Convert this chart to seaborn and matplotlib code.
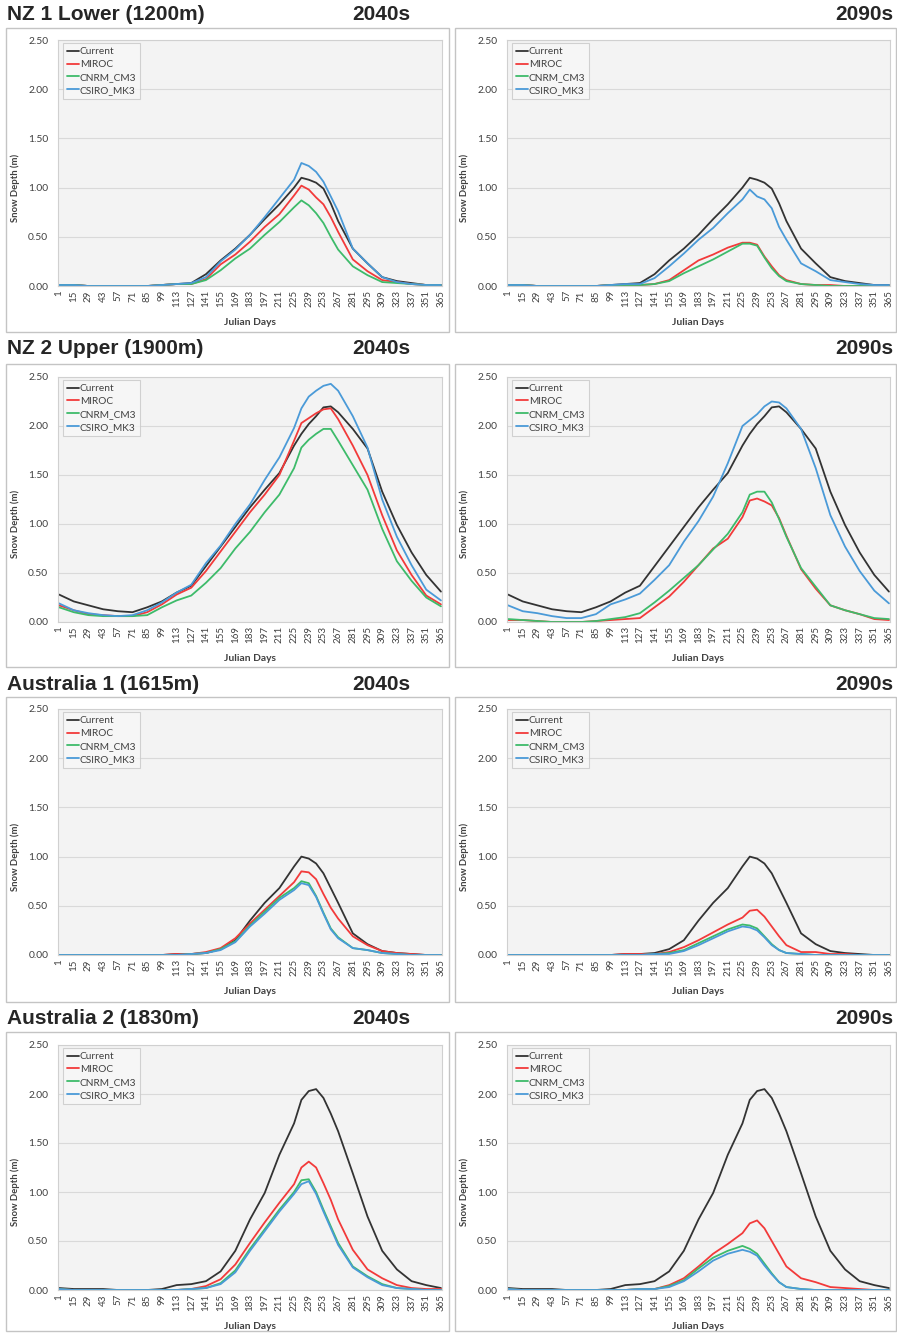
import matplotlib
matplotlib.use("Agg")
import matplotlib.pyplot as plt
import pandas as pd
import seaborn as sns
from matplotlib.patches import Rectangle

DAYS = [1, 15, 29, 43, 57, 71, 85, 99, 113, 127, 141, 155, 169, 183, 197, 211,
        225, 232, 239, 246, 253, 260, 267, 281, 295, 309, 323, 337, 351, 365]
TICK_DAYS = list(range(1, 366, 14))
MODELS = ["Current", "MIROC", "CNRM_CM3", "CSIRO_MK3"]
COLORS = ["#333333", "#f23a3a", "#3dbb6a", "#4a9ad8"]
SITES = ["NZ 1 Lower (1200m)", "NZ 2 Upper (1900m)", "Australia 1 (1615m)", "Australia 2 (1830m)"]
DECADES = ["2040s", "2090s"]

# --- NZ 1 Lower ---
NZ1_CURRENT = [0.01, 0.01, 0, 0, 0, 0, 0, 0.01, 0.02, 0.03, 0.12, 0.26, 0.38, 0.52, 0.68, 0.83,
               1.00, 1.10, 1.08, 1.05, 0.99, 0.84, 0.66, 0.38, 0.23, 0.09, 0.05, 0.03, 0.01, 0.01]
NZ1_2040_MIROC = [0.01, 0.01, 0, 0, 0, 0, 0, 0.01, 0.02, 0.02, 0.07, 0.22, 0.32, 0.45, 0.60, 0.73,
                  0.92, 1.02, 0.98, 0.90, 0.83, 0.70, 0.55, 0.27, 0.15, 0.06, 0.04, 0.02, 0.01, 0.01]
NZ1_2040_CNRM = [0.01, 0.01, 0, 0, 0, 0, 0, 0.01, 0.02, 0.02, 0.06, 0.16, 0.28, 0.38, 0.52, 0.65,
                 0.80, 0.87, 0.82, 0.74, 0.64, 0.50, 0.37, 0.20, 0.11, 0.04, 0.03, 0.02, 0.01, 0.01]
NZ1_2040_CSIRO = [0.01, 0.01, 0, 0, 0, 0, 0, 0.01, 0.02, 0.03, 0.09, 0.25, 0.37, 0.52, 0.70, 0.89,
                  1.08, 1.25, 1.22, 1.16, 1.06, 0.91, 0.76, 0.38, 0.23, 0.09, 0.04, 0.02, 0.01, 0.01]
NZ1_2090_MIROC = [0.01, 0.01, 0, 0, 0, 0, 0, 0.01, 0.01, 0.01, 0.02, 0.06, 0.16, 0.26, 0.32, 0.39,
                  0.44, 0.44, 0.42, 0.30, 0.20, 0.11, 0.06, 0.02, 0.01, 0.01, 0, 0, 0, 0]
NZ1_2090_CNRM = [0.01, 0.01, 0, 0, 0, 0, 0, 0.01, 0.01, 0.01, 0.02, 0.05, 0.13, 0.20, 0.27, 0.35,
                 0.43, 0.43, 0.41, 0.29, 0.18, 0.10, 0.05, 0.02, 0.01, 0, 0, 0, 0, 0]
NZ1_2090_CSIRO = [0.01, 0.01, 0, 0, 0, 0, 0, 0.01, 0.02, 0.02, 0.08, 0.20, 0.33, 0.47, 0.59, 0.74,
                  0.88, 0.98, 0.91, 0.88, 0.79, 0.60, 0.47, 0.23, 0.15, 0.06, 0.04, 0.02, 0.01, 0.01]

# --- NZ 2 Upper ---
NZ2_CURRENT = [0.28, 0.21, 0.17, 0.13, 0.11, 0.10, 0.15, 0.21, 0.30, 0.37, 0.57, 0.77, 0.97, 1.17, 1.35, 1.52,
               1.80, 1.92, 2.02, 2.10, 2.19, 2.20, 2.14, 1.97, 1.77, 1.33, 0.99, 0.71, 0.48, 0.31]
NZ2_2040_MIROC = [0.17, 0.12, 0.08, 0.07, 0.06, 0.06, 0.10, 0.18, 0.28, 0.35, 0.52, 0.72, 0.92, 1.12, 1.30, 1.50,
                  1.85, 2.03, 2.08, 2.13, 2.17, 2.18, 2.07, 1.80, 1.50, 1.09, 0.73, 0.48, 0.27, 0.18]
NZ2_2040_CNRM = [0.15, 0.10, 0.07, 0.06, 0.06, 0.06, 0.07, 0.15, 0.22, 0.27, 0.40, 0.55, 0.75, 0.92, 1.12, 1.30,
                 1.57, 1.78, 1.86, 1.92, 1.97, 1.97, 1.85, 1.60, 1.35, 0.95, 0.62, 0.42, 0.25, 0.16]
NZ2_2040_CSIRO = [0.19, 0.12, 0.09, 0.07, 0.06, 0.07, 0.12, 0.20, 0.30, 0.38, 0.60, 0.78, 1.00, 1.20, 1.45, 1.68,
                  1.98, 2.18, 2.30, 2.36, 2.41, 2.43, 2.36, 2.10, 1.78, 1.25, 0.87, 0.58, 0.33, 0.22]
NZ2_2090_MIROC = [0.02, 0.02, 0.01, 0, 0, 0, 0.01, 0.02, 0.03, 0.04, 0.15, 0.26, 0.41, 0.58, 0.75, 0.85,
                  1.07, 1.24, 1.26, 1.23, 1.19, 1.06, 0.88, 0.54, 0.34, 0.17, 0.12, 0.08, 0.03, 0.02]
NZ2_2090_CNRM = [0.03, 0.02, 0.01, 0, 0, 0, 0.01, 0.03, 0.05, 0.09, 0.20, 0.32, 0.45, 0.58, 0.74, 0.90,
                 1.12, 1.30, 1.33, 1.33, 1.22, 1.05, 0.87, 0.55, 0.36, 0.17, 0.12, 0.08, 0.04, 0.03]
NZ2_2090_CSIRO = [0.17, 0.11, 0.09, 0.06, 0.04, 0.04, 0.08, 0.18, 0.23, 0.29, 0.43, 0.58, 0.82, 1.03, 1.28, 1.62,
                  2.00, 2.06, 2.12, 2.20, 2.25, 2.24, 2.18, 1.97, 1.57, 1.09, 0.77, 0.52, 0.32, 0.19]

# --- Australia 1 ---
AU1_CURRENT = [0, 0, 0, 0, 0, 0, 0, 0, 0.01, 0.01, 0.02, 0.06, 0.15, 0.35, 0.53, 0.68,
               0.90, 1.00, 0.98, 0.93, 0.83, 0.68, 0.53, 0.22, 0.11, 0.04, 0.02, 0.01, 0, 0]
AU1_2040_MIROC = [0, 0, 0, 0, 0, 0, 0, 0, 0.01, 0.01, 0.03, 0.07, 0.17, 0.32, 0.46, 0.60,
                  0.74, 0.85, 0.84, 0.77, 0.62, 0.48, 0.37, 0.19, 0.10, 0.04, 0.02, 0.01, 0, 0]
AU1_2040_CNRM = [0, 0, 0, 0, 0, 0, 0, 0, 0, 0.01, 0.02, 0.06, 0.14, 0.30, 0.44, 0.58,
                 0.68, 0.75, 0.73, 0.60, 0.43, 0.27, 0.18, 0.07, 0.05, 0.02, 0.01, 0, 0, 0]
AU1_2040_CSIRO = [0, 0, 0, 0, 0, 0, 0, 0, 0, 0.01, 0.02, 0.05, 0.13, 0.29, 0.42, 0.56,
                  0.66, 0.73, 0.71, 0.59, 0.42, 0.26, 0.17, 0.07, 0.05, 0.02, 0.01, 0, 0, 0]
AU1_2090_MIROC = [0, 0, 0, 0, 0, 0, 0, 0, 0.01, 0.01, 0.01, 0.03, 0.08, 0.15, 0.23, 0.31,
                  0.38, 0.45, 0.46, 0.39, 0.29, 0.19, 0.10, 0.03, 0.03, 0.01, 0.01, 0, 0, 0]
AU1_2090_CNRM = [0, 0, 0, 0, 0, 0, 0, 0, 0, 0, 0.01, 0.02, 0.05, 0.12, 0.19, 0.26,
                 0.31, 0.30, 0.27, 0.19, 0.11, 0.05, 0.02, 0.01, 0, 0, 0, 0, 0, 0]
AU1_2090_CSIRO = [0, 0, 0, 0, 0, 0, 0, 0, 0, 0, 0.01, 0.01, 0.04, 0.10, 0.17, 0.24,
                  0.29, 0.28, 0.25, 0.18, 0.10, 0.05, 0.02, 0.01, 0, 0, 0, 0, 0, 0]

# --- Australia 2 ---
AU2_CURRENT = [0.02, 0.01, 0.01, 0.01, 0, 0, 0, 0.01, 0.05, 0.06, 0.09, 0.19, 0.40, 0.72, 0.99, 1.38,
               1.70, 1.94, 2.03, 2.05, 1.96, 1.80, 1.62, 1.19, 0.75, 0.40, 0.21, 0.09, 0.05, 0.02]
AU2_2040_MIROC = [0.01, 0, 0, 0, 0, 0, 0, 0, 0, 0.01, 0.04, 0.11, 0.26, 0.48, 0.69, 0.89,
                  1.08, 1.25, 1.31, 1.25, 1.09, 0.92, 0.72, 0.41, 0.21, 0.12, 0.05, 0.02, 0.01, 0.01]
AU2_2040_CNRM = [0.01, 0, 0, 0, 0, 0, 0, 0, 0, 0.01, 0.02, 0.07, 0.20, 0.42, 0.62, 0.82,
                 1.00, 1.12, 1.13, 1.00, 0.82, 0.65, 0.48, 0.24, 0.14, 0.06, 0.02, 0.01, 0, 0]
AU2_2040_CSIRO = [0.01, 0, 0, 0, 0, 0, 0, 0, 0, 0.01, 0.02, 0.06, 0.18, 0.40, 0.60, 0.80,
                  0.98, 1.08, 1.11, 0.98, 0.80, 0.63, 0.46, 0.23, 0.13, 0.05, 0.02, 0.01, 0, 0]
AU2_2090_MIROC = [0.01, 0, 0, 0, 0, 0, 0, 0, 0, 0.01, 0.01, 0.05, 0.12, 0.24, 0.37, 0.47,
                  0.58, 0.68, 0.71, 0.63, 0.50, 0.37, 0.24, 0.12, 0.08, 0.03, 0.02, 0.01, 0, 0]
AU2_2090_CNRM = [0.01, 0, 0, 0, 0, 0, 0, 0, 0, 0.01, 0.01, 0.04, 0.10, 0.22, 0.33, 0.40,
                 0.45, 0.42, 0.37, 0.27, 0.17, 0.08, 0.03, 0.01, 0, 0, 0, 0, 0, 0]
AU2_2090_CSIRO = [0.01, 0, 0, 0, 0, 0, 0, 0, 0, 0.01, 0.01, 0.03, 0.09, 0.19, 0.30, 0.37,
                  0.41, 0.39, 0.35, 0.25, 0.16, 0.08, 0.03, 0.01, 0, 0, 0, 0, 0, 0]

PANELS = [
    [(NZ1_CURRENT, NZ1_2040_MIROC, NZ1_2040_CNRM, NZ1_2040_CSIRO),
     (NZ1_CURRENT, NZ1_2090_MIROC, NZ1_2090_CNRM, NZ1_2090_CSIRO)],
    [(NZ2_CURRENT, NZ2_2040_MIROC, NZ2_2040_CNRM, NZ2_2040_CSIRO),
     (NZ2_CURRENT, NZ2_2090_MIROC, NZ2_2090_CNRM, NZ2_2090_CSIRO)],
    [(AU1_CURRENT, AU1_2040_MIROC, AU1_2040_CNRM, AU1_2040_CSIRO),
     (AU1_CURRENT, AU1_2090_MIROC, AU1_2090_CNRM, AU1_2090_CSIRO)],
    [(AU2_CURRENT, AU2_2040_MIROC, AU2_2040_CNRM, AU2_2040_CSIRO),
     (AU2_CURRENT, AU2_2090_MIROC, AU2_2090_CNRM, AU2_2090_CSIRO)],
]

W, H = 897, 1333
BOX_Y = [(28, 332), (364, 667), (697, 1002), (1032, 1331)]
PLOT_Y = [(40, 286), (377, 622), (709, 955), (1045, 1290)]
TITLE_Y = [14, 349, 684, 1018]
BOX_X = [(6, 449), (455, 896)]
PLOT_X = [(58, 442), (507, 890)]
TITLE_FONT = ["Liberation Sans", "DejaVu Sans"]


def to_frame(series) -> pd.DataFrame:
    rows = []
    for model, values in zip(MODELS, series):
        for d, v in zip(DAYS, values):
            rows.append({"day": d, "depth": v, "model": model})
    return pd.DataFrame(rows)


def panel(fig, r, c, series) -> None:
    bx0, bx1 = BOX_X[c]
    by0, by1 = BOX_Y[r]
    fig.add_artist(Rectangle((bx0 / W, 1 - by1 / H), (bx1 - bx0) / W, (by1 - by0) / H,
                             transform=fig.transFigure, facecolor="white",
                             edgecolor="#c4c4c4", lw=1.0, zorder=0))
    px0, px1 = PLOT_X[c]
    py0, py1 = PLOT_Y[r]
    ax = fig.add_axes([px0 / W, 1 - py1 / H, (px1 - px0) / W, (py1 - py0) / H])
    ax.set_facecolor("#f3f3f3")
    sns.lineplot(data=to_frame(series), x="day", y="depth", hue="model",
                 hue_order=MODELS, palette=COLORS, lw=1.3, ax=ax)
    ax.set_xlim(0, 366)
    ax.set_ylim(0, 2.5)
    yt = [0, 0.5, 1.0, 1.5, 2.0, 2.5]
    ax.set_yticks(yt)
    ax.set_yticklabels([f"{v:.2f}" for v in yt], fontsize=7.4, color="#404040")
    ax.set_xticks(TICK_DAYS)
    ax.set_xticklabels([str(d) for d in TICK_DAYS], rotation=90, fontsize=7.0, color="#404040")
    ax.tick_params(length=0, axis="y", pad=7)
    ax.tick_params(length=0, axis="x", pad=3)
    ax.grid(axis="y", color="#d9d9d9", lw=0.8)
    ax.grid(axis="x", visible=False)
    ax.set_axisbelow(True)
    for s in ax.spines.values():
        s.set_color("#d0d0d0")
        s.set_linewidth(0.8)
    ax.set_xlabel("Julian Days", fontsize=7.4, fontweight="bold", color="#404040")
    ax.xaxis.set_label_coords(0.5, -0.13)
    ax.set_ylabel("Snow Depth (m)", fontsize=6.8, fontweight="bold", color="#404040")
    ax.yaxis.set_label_coords(-0.098, 0.40)
    leg = ax.legend(loc="upper left", bbox_to_anchor=(0.012, 0.988), fontsize=7.3,
                    frameon=True, fancybox=False, handlelength=1.2, handletextpad=0.1,
                    labelspacing=0.38, borderpad=0.4, borderaxespad=0)
    leg.get_frame().set_edgecolor("#c8c8c8")
    leg.get_frame().set_facecolor("#f7f7f7")
    leg.get_frame().set_linewidth(0.8)
    for t in leg.get_texts():
        t.set_color("#404040")


def main() -> None:
    sns.set_theme(style="white")
    plt.rcParams["font.family"] = ["Lato", "DejaVu Sans"]
    fig = plt.figure(figsize=(W / 100, H / 100), dpi=100)
    fig.patch.set_facecolor("white")

    for r in range(4):
        for c in range(2):
            panel(fig, r, c, PANELS[r][c])
        ty = 1 - TITLE_Y[r] / H
        fig.text(7 / W, ty, SITES[r], ha="left", va="center", fontsize=15,
                 fontweight="bold", family=TITLE_FONT)
        fig.text(410 / W, ty, DECADES[0], ha="right", va="center", fontsize=15,
                 fontweight="bold", family=TITLE_FONT)
        fig.text(893 / W, ty, DECADES[1], ha="right", va="center", fontsize=15,
                 fontweight="bold", family=TITLE_FONT)

    fig.savefig("out.png", dpi=100)
    plt.close(fig)


if __name__ == "__main__":
    main()
